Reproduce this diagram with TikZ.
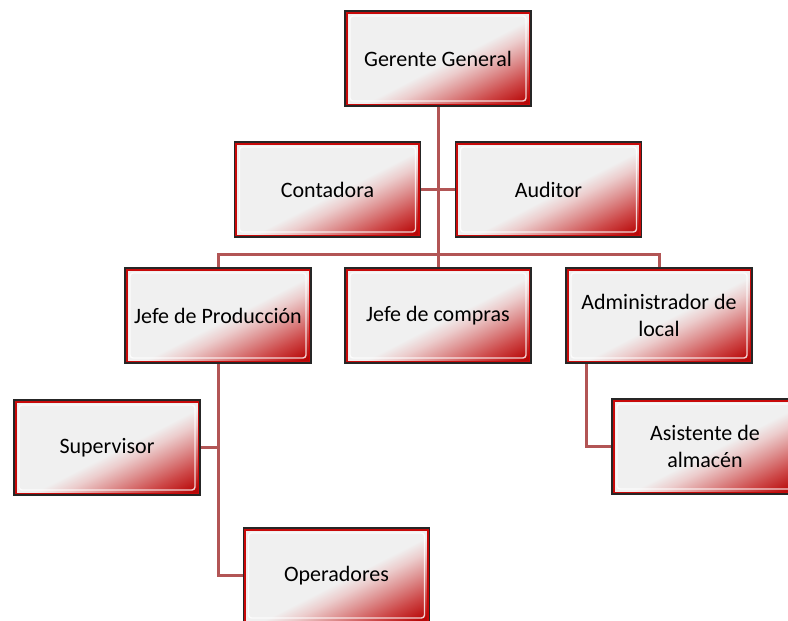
\documentclass[tikz,border=0pt]{standalone}
\usepackage{fontspec}
\setmainfont{Carlito}
\usetikzlibrary{backgrounds}
\definecolor{boxgray}{RGB}{240,240,240}
\definecolor{pinka}{RGB}{236,204,204}
\definecolor{pinkb}{RGB}{222,145,145}
\definecolor{midred}{RGB}{205,72,72}
\definecolor{deepred}{RGB}{184,8,8}
\definecolor{edgered}{RGB}{200,10,10}
\definecolor{linkred}{RGB}{178,85,85}
\pgfdeclarehorizontalshading{redlin}{100bp}{color(0bp)=(boxgray); color(52bp)=(boxgray); color(56bp)=(pinka); color(61bp)=(pinkb); color(67bp)=(midred); color(73bp)=(deepred); color(100bp)=(deepred)}
\tikzset{
  orgbox/.style={rectangle, minimum width=186pt, minimum height=95pt, inner sep=0pt,
    draw=black!85, line width=1.6pt,
    align=center, font=\fontsize{22}{27}\selectfont, text=black,
    path picture={
      \draw[edgered, line width=5pt] (path picture bounding box.south west) rectangle (path picture bounding box.north east);
      \draw[white, opacity=0.8, line width=1.4pt, rounded corners=3pt]
        ([shift={(5pt,5pt)}]path picture bounding box.south west) rectangle ([shift={(-5pt,-5pt)}]path picture bounding box.north east);
    }},
  link/.style={draw=linkred, line width=3pt, line cap=rect}
}
\newcommand\orgnode[4]{%
  \begin{scope}
    \clip (#2-93,#3-47.5) rectangle (#2+93,#3+47.5);
    \begin{scope}[transform canvas={cm={18.6,-9.5,18.6,9.5,({#2*1pt-186pt},{-#3*1pt})}}]
      \shade[shading=redlin] (0pt,0pt) rectangle (10pt,10pt);
    \end{scope}
  \end{scope}
  \node[orgbox] (#1) at (#2,#3) {#4};
}
\begin{document}
\begin{tikzpicture}[x=1pt, y=-1pt]
\useasboundingbox (0,0) rectangle (788,621);
\orgnode{gg}{438}{58.5}{Gerente General}
\orgnode{cont}{327.5}{189.5}{Contadora}
\orgnode{aud}{548.5}{189.5}{Auditor}
\orgnode{jp}{218}{315.5}{Jefe de Producción}
\orgnode{jc}{438}{315.5}{Jefe de compras}
\orgnode{adm}{659}{315.5}{Administrador de\\local}
\orgnode{sup}{107}{447.5}{Supervisor}
\orgnode{ope}{336.5}{575.5}{Operadores}
\orgnode{asi}{705}{446.5}{Asistente de\\almacén}
\coordinate (bar) at (438,254);
\begin{scope}[on background layer]
\draw[link] (gg.south) -- (jc.north);
\draw[link] (jp.north) |- (bar) -| (adm.north);
\draw[link] (cont.east) -- (aud.west);
\draw[link] (jp.south) |- (ope.west);
\draw[link] (sup.east) -- (sup.east -| jp.south);
\draw[link] ([xshift=21pt]adm.south west) |- (asi.west);
\end{scope}
\end{tikzpicture}
\end{document}
